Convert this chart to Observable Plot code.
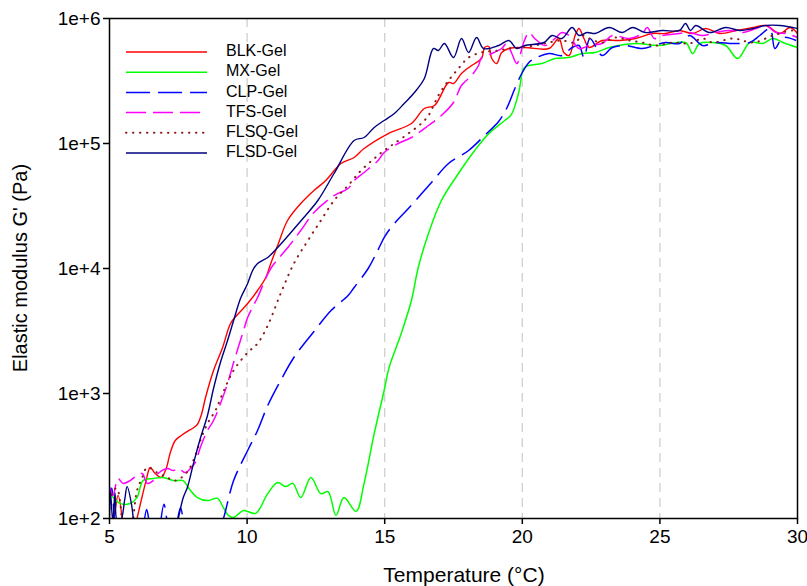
<!DOCTYPE html>
<html><head><meta charset="utf-8">
<script src="https://cdn.jsdelivr.net/npm/d3@7"></script>
<script src="https://cdn.jsdelivr.net/npm/@observablehq/plot@0.6"></script>
<style>body{margin:0;background:#fff}#chart{width:807px;height:586px}</style>
</head><body><div id="chart"></div>
<script>
const xTicks = [5, 10, 15, 20, 25, 30];
const gridT = [10, 15, 20, 25];
const yTicks = [1e2, 1e3, 1e4, 1e5, 1e6];
const yTickLabels = ["1e+2", "1e+3", "1e+4", "1e+5", "1e+6"];
const seriesNames = ["BLK-Gel", "MX-Gel", "CLP-Gel", "TFS-Gel", "FLSQ-Gel", "FLSD-Gel"];

const blk = [[5.0,95],[5.13,100],[5.31,153],[5.46,100],[5.5,NaN],
[5.95,90],[6.0,100],[6.15,139],[6.33,201],[6.48,256],[6.66,229],[6.88,213],[7.06,251],[7.21,337],[7.39,421],[7.61,461],[7.83,497],[8.01,525],[8.19,565],[8.34,679],[8.49,929],[8.78,1528],[9.11,2333],[9.4,3631],[9.69,4365],[10.02,5248],[10.38,6668],[10.68,8472],[10.86,10965],[11.11,15300],[11.47,24210],[11.95,33110],[12.43,42070],[12.86,50580],[13.41,69180],[13.89,77270],[14.25,91200],[15.13,120200],[15.97,144500],[16.44,190500],[16.81,201400],[17.32,307600],[17.5,302000],[17.79,363100],[18.16,420700],[18.52,478600],[18.63,586100],[18.78,597000],[18.89,478600],[19.07,436500],[19.25,534600],[19.51,575400],[20.09,586100],[20.97,575400],[21.33,691800],[21.51,534600],[21.7,505800],[21.92,731100],[22.06,831800],[22.24,691800],[22.43,586100],[22.9,666800],[23.52,666800],[24.11,691800],[24.73,758600],[25.2,758600],[25.71,801700],[26.19,758600],[26.66,831800],[27.18,758600],[27.77,801700],[28.39,847200],[28.85,879000],[29.36,758600],[29.73,847200],[30.0,758600]];

const mx = [[5.0,161],[5.38,132],[5.75,132],[6.0,147],[6.22,201],[6.59,209],[6.95,213],[7.32,201],[7.68,201],[7.86,177],[8.19,147],[8.56,139],[8.92,145],[9.14,122],[9.32,106],[9.51,102],[9.87,116],[10.31,110],[10.75,158],[11.11,194],[11.41,180],[11.66,191],[11.95,147],[12.32,213],[12.68,158],[12.94,164],[13.23,106],[13.52,147],[13.96,114],[14.25,191],[14.62,479],[14.98,1057],[15.16,1614],[15.6,3020],[15.97,5546],[16.22,10190],[16.59,19050],[17.06,34990],[17.68,57540],[18.27,87900],[18.78,120000],[19.36,152800],[19.6,170000],[19.87,255900],[20.05,398100],[20.24,420700],[20.71,436500],[21.19,478600],[21.7,487500],[22.17,524800],[22.65,534600],[23.16,586100],[24.11,631000],[24.98,608100],[25.93,642700],[26.19,524800],[26.44,631000],[26.92,642700],[27.39,608100],[27.83,478600],[28.27,642700],[28.74,631000],[29.11,691800],[29.47,642700],[30.0,586100]];

const clp = [[5.0,130],[5.08,175],[5.18,95],[5.2,NaN],
[6.25,90],[6.35,118],[6.45,90],[6.5,NaN],
[6.85,90],[6.98,130],[7.1,90],[7.15,NaN],
[7.45,90],[7.58,122],[7.7,90],[7.75,NaN],
[9.05,90],[9.14,100],[9.51,201],[10.02,350],[10.38,506],[10.75,802],[11.22,1271],[11.7,1941],[12.43,3133],[13.05,4613],[13.67,6081],[13.89,7047],[14.4,10000],[14.77,14300],[15.0,18000],[15.35,22900],[15.86,30200],[16.7,48750],[17.32,69180],[18.05,87900],[18.63,115900],[19.14,150000],[19.43,190500],[19.73,275400],[19.98,363100],[20.24,444600],[20.45,478600],[20.97,524800],[21.44,505800],[21.81,586100],[22.06,608100],[22.24,487500],[22.46,691800],[22.9,505800],[23.27,586100],[23.74,608100],[24.36,575400],[24.8,608100],[25.2,642700],[25.71,631000],[26.08,731100],[26.55,608100],[27.03,642700],[27.66,631000],[28.27,642700],[28.63,731100],[29.0,831800],[29.18,575400],[29.47,704700],[29.95,666800]];

const tfs = [[5.02,177],[5.13,153],[5.31,209],[5.49,191],[5.75,201],[6.0,221],[6.19,229],[6.37,191],[6.59,201],[6.77,229],[7.1,251],[7.32,242],[7.5,251],[7.76,233],[7.94,251],[8.12,281],[8.3,370],[8.56,506],[8.78,608],[9.05,850],[9.29,1202],[9.51,1770],[9.87,3191],[10.02,4055],[10.38,5861],[10.86,10000],[11.48,14720],[11.95,20140],[12.43,28050],[13.16,38370],[13.67,43650],[13.89,50580],[14.25,58610],[14.76,73110],[14.98,84720],[15.49,100000],[15.97,111700],[16.59,139300],[17.06,167500],[17.5,212800],[17.79,291100],[18.16,349900],[18.41,420700],[18.52,487500],[18.89,524800],[19.25,575400],[19.43,631000],[19.62,524800],[19.8,436500],[20.05,642700],[20.24,772700],[20.45,691800],[20.82,608100],[21.19,691800],[21.44,772700],[21.7,731100],[22.06,575400],[22.43,608100],[22.9,631000],[23.27,731100],[23.89,691800],[24.36,758600],[24.54,847200],[24.8,691800],[25.09,731100],[25.71,758600],[26.08,772700],[26.55,731100],[27.03,772700],[27.54,801700],[28.01,772700],[28.49,831800],[28.85,879000],[29.22,772700],[29.58,758600],[30.0,704700]];

const flsq = [[5.0,120],[5.13,167],[5.27,174],[5.45,95],[5.5,NaN],
[5.82,90],[5.86,100],[6.0,167],[6.19,213],[6.37,256],[6.73,233],[7.1,213],[7.32,201],[7.57,209],[7.86,242],[8.12,319],[8.3,421],[8.56,575],[8.85,731],[9.11,1000],[9.51,1528],[10.02,2128],[10.38,2512],[10.75,3499],[11.22,6310],[11.7,10965],[12.21,16750],[12.68,24210],[13.16,34990],[13.67,46130],[14.14,60810],[14.62,75860],[14.98,87900],[15.35,100000],[15.86,120200],[16.33,144500],[16.59,167500],[16.95,242100],[17.32,319000],[17.68,398100],[18.05,487500],[18.52,534600],[19.14,555000],[19.51,575400],[19.98,586100],[20.45,608100],[20.97,642700],[21.44,666800],[21.92,642700],[22.17,731100],[22.43,691800],[22.9,642700],[23.38,704700],[23.89,666800],[24.36,642700],[24.84,608100],[25.46,642700],[26.08,631000],[26.55,691800],[26.92,642700],[27.66,691800],[28.39,642700],[29.11,731100],[29.84,801700],[30.0,772700]];

const flsd = [[5.0,100],[5.03,167],[5.12,95],[5.2,160],[5.28,95],[5.4,95],[5.55,140],[5.64,180],[5.8,130],[5.88,90],[5.9,NaN],
[7.45,90],[7.5,100],[7.68,147],[7.83,177],[8.05,275],[8.3,437],[8.56,667],[8.78,1096],[9.03,1770],[9.29,2655],[9.51,3837],[9.76,5754],[10.02,7586],[10.2,9638],[10.38,10965],[10.75,12250],[11.11,14720],[11.59,19410],[12.06,25590],[12.57,34990],[13.16,57540],[13.89,105700],[14.25,111700],[14.62,134300],[14.98,152800],[15.35,173800],[15.71,208900],[16.08,255900],[16.44,331100],[16.77,575400],[16.95,555000],[17.17,631000],[17.5,487500],[17.79,691800],[18.05,534600],[18.34,704700],[18.59,575400],[19.14,608100],[19.51,666800],[19.8,575400],[20.09,608100],[20.79,642700],[21.08,731100],[21.44,691800],[21.81,847200],[22.06,731100],[22.35,772700],[22.65,758600],[23.16,847200],[23.63,772700],[24.0,847200],[24.47,772700],[25.09,801700],[25.71,801700],[25.93,912000],[26.11,801700],[26.3,879000],[26.8,772700],[27.39,847200],[27.9,801700],[28.39,831800],[28.85,879000],[29.36,879000],[30.0,831800]];

const seriesData = [blk, mx, clp, tfs, flsq, flsd];
const colors = ["#ff0000", "#00ff00", "#0000ff", "#ff00ff", "#8b1a1a", "#000080"];
const dashes = [null, null, "24,8", "20,7", "0.4,6.6", null];
const widths = [1.4, 1.5, 1.5, 1.5, 2, 1.4];
const FONT = "'Liberation Sans', Arial, sans-serif";

const lineMarks = seriesData.map((arr, i) => Plot.line(arr.map(([T, G]) => ({T, G})), {
  x: "T", y: "G", stroke: colors[i], strokeWidth: widths[i],
  strokeDasharray: dashes[i] || undefined, curve: "catmull-rom", clip: true,
  strokeLinecap: i === 4 ? "round" : "butt"
}));

const plot = Plot.plot({
  width: 807, height: 586,
  marginLeft: 109, marginRight: 10, marginTop: 18, marginBottom: 68,
  style: {fontFamily: FONT, fontSize: "19px", background: "#fff", color: "#000"},
  x: {domain: [5, 30], label: null},
  y: {type: "log", domain: [100, 1e6], label: null},
  marks: [
    Plot.ruleX(gridT, {stroke: "#cfcfcf", strokeWidth: 1.3, strokeDasharray: "9,6"}),
    ...lineMarks,
    Plot.frame({stroke: "#000", strokeWidth: 1.5}),
    Plot.axisX({ticks: xTicks, tickSize: 6, tickPadding: 5, fontSize: 19, stroke: "#000", strokeWidth: 1.5, label: null}),
    Plot.axisY({ticks: yTicks, tickSize: 6, tickPadding: 3, fontSize: 19, stroke: "#000", strokeWidth: 1.5, label: null,
      tickFormat: d => yTickLabels[yTicks.indexOf(d)]})
  ]
});

document.getElementById("chart").appendChild(plot);
const svg = d3.select(plot);
const xs = plot.scale("x"), ys = plot.scale("y");

svg.append("text").attr("x", (xs.apply(5) + xs.apply(30)) / 2 + 11).attr("y", 576)
  .attr("text-anchor", "middle").attr("dominant-baseline", "middle")
  .style("font-size", "21px").style("font-family", FONT)
  .text("Temperature (°C)");
svg.append("text").attr("transform", `translate(22,${(ys.apply(100) + ys.apply(1e6)) / 2}) rotate(-90)`)
  .attr("text-anchor", "middle").attr("dominant-baseline", "middle")
  .style("font-size", "20px").style("font-family", FONT)
  .text("Elastic modulus G' (Pa)");

const lg = svg.append("g");
seriesNames.forEach((name, i) => {
  const y = 52 + i * 20.2;
  lg.append("line").attr("x1", 126).attr("x2", 207).attr("y1", y).attr("y2", y)
    .attr("stroke", colors[i]).attr("stroke-width", widths[i])
    .attr("stroke-dasharray", dashes[i] || null)
    .attr("stroke-linecap", i === 4 ? "round" : "butt");
  lg.append("text").attr("x", 226).attr("y", y).attr("text-anchor", "start").attr("dominant-baseline", "middle")
    .style("font-size", "16px").style("font-family", FONT)
    .text(name);
});
</script></body></html>
